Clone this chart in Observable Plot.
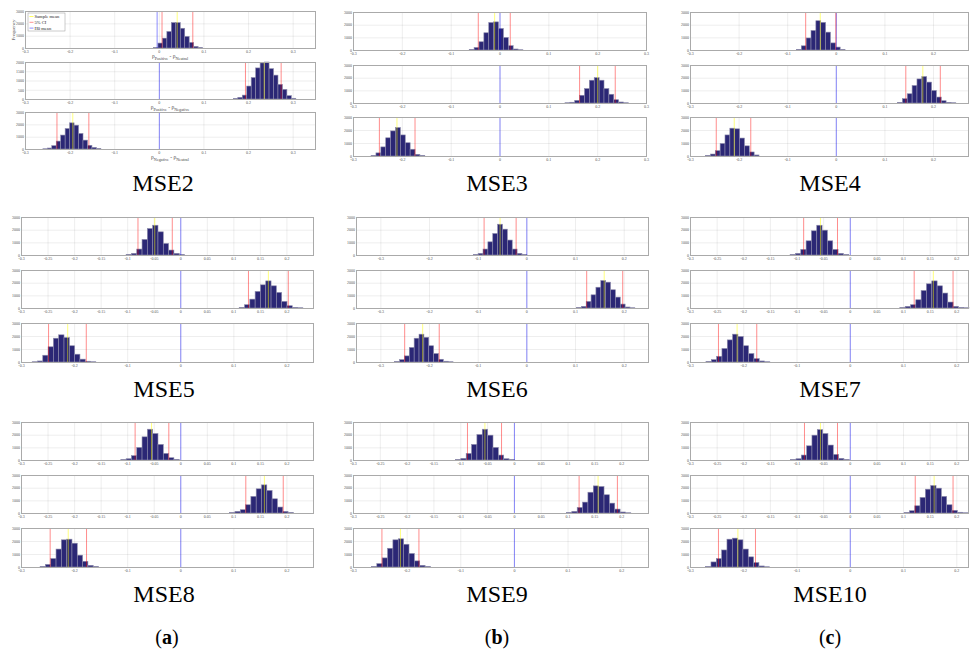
<!DOCTYPE html>
<html>
<head>
<meta charset="utf-8">
<script src="https://cdn.jsdelivr.net/npm/d3@7"></script>
<script src="https://cdn.jsdelivr.net/npm/@observablehq/plot@0.6"></script>
<style>
  body { margin: 0; background: #fff; }
  #fig { position: relative; width: 974px; height: 652px; overflow: hidden; background: #fff; }
  #fig svg.sub { position: absolute; overflow: visible; }
  #overlay { position: absolute; left: 0; top: 0; pointer-events: none; }
</style>
</head>
<body>
<div id="fig"></div>
<script>
// ---- data ---------------------------------------------------------------
const panelNames = ["MSE2", "MSE3", "MSE4", "MSE5", "MSE6", "MSE7", "MSE8", "MSE9", "MSE10"];
const groupLetters = ["a", "b", "c"];
const comparisonTerms = [["Positive", "Neutral"], ["Positive", "Negative"], ["Negative", "Neutral"]];
const legendLabels = ["Sample mean", "5% CI", "H0 mean"];
const yAxisLabel = "Frequency";

// per panel: [Pos-Neu, Pos-Neg, Neg-Neu]
const sampleMeans = [
  [0.040, 0.235, -0.194],
  [-0.011, 0.200, -0.211],
  [-0.033, 0.178, -0.210],
  [-0.049, 0.165, -0.213],
  [-0.055, 0.159, -0.214],
  [-0.056, 0.156, -0.2125],
  [-0.055, 0.1575, -0.212],
  [-0.055, 0.156, -0.2125],
  [-0.056, 0.1575, -0.211]
];
const ciLower = [
  [0.006, 0.193, -0.2295],
  [-0.0445, 0.163, -0.247],
  [-0.063, 0.143, -0.247],
  [-0.0806, 0.1275, -0.249],
  [-0.0878, 0.123, -0.251],
  [-0.0875, 0.120, -0.2475],
  [-0.086, 0.1225, -0.246],
  [-0.0875, 0.1206, -0.247],
  [-0.086, 0.122, -0.2475]
];
const ciUpper = [
  [0.075, 0.273, -0.158],
  [0.021, 0.236, -0.174],
  [-0.001, 0.214, -0.176],
  [-0.016, 0.2025, -0.178],
  [-0.022, 0.197, -0.180],
  [-0.024, 0.193, -0.1756],
  [-0.0225, 0.193, -0.1775],
  [-0.024, 0.192, -0.178],
  [-0.024, 0.193, -0.178]
];
const h0Means = [
  [-0.005, 0, 0], [0, 0, 0], [0, 0, 0],
  [0, 0, 0], [0, 0, 0], [0, 0, 0],
  [0, 0, 0], [0, 0, 0], [0, 0, 0]
];

// histogram bins: left edge of first bin, common bin width, counts
const binWidth = 0.01;
const binStarts = [
  [-0.012, 0.167, -0.26],
  [-0.062, 0.134, -0.263],
  [-0.081, 0.127, -0.268],
  [-0.102, 0.111, -0.279],
  [-0.109, 0.103, -0.2705],
  [-0.112, 0.094, -0.27],
  [-0.112, 0.093, -0.264],
  [-0.109, 0.098, -0.2656],
  [-0.111, 0.102, -0.2706]
];
const countsMSE2 = [
  [30, 400, 800, 1340, 2060, 2060, 1600, 940, 450, 130, 40],
  [30, 90, 210, 700, 1160, 1680, 1950, 2000, 1640, 1290, 790, 520, 180, 40],
  [20, 80, 270, 640, 1130, 1660, 2120, 1930, 1260, 720, 300, 130, 30]
];
const countsMSE3 = [
  [50, 200, 650, 1360, 2170, 2220, 1700, 990, 340, 80, 20],
  [20, 60, 210, 610, 1140, 1800, 2000, 1800, 1140, 690, 260, 80, 20],
  [40, 240, 700, 1400, 1930, 2190, 1620, 1020, 520, 130, 40]
];
const countsMSE4 = [
  [50, 330, 950, 1540, 2310, 2180, 1410, 560, 230, 40],
  [50, 340, 730, 1380, 1900, 2090, 1650, 990, 470, 180, 50, 20],
  [40, 150, 410, 960, 1620, 2140, 2090, 1380, 780, 310, 80]
];
const countsMSE5 = [
  [50, 130, 470, 1230, 2090, 2350, 1830, 910, 390, 130, 30],
  [40, 260, 700, 1310, 1830, 2140, 1750, 1230, 520, 180, 50, 20],
  [20, 80, 520, 1170, 1830, 2090, 1880, 1250, 600, 220, 60, 20]
];
const countsMSE6 = [
  [40, 130, 470, 1040, 1700, 2430, 2040, 1180, 470, 130, 40],
  [30, 130, 520, 1040, 1640, 2170, 2040, 1440, 860, 310, 80, 20],
  [30, 180, 470, 1120, 1830, 2140, 1900, 1250, 650, 210, 60, 20]
];
const countsMSE7 = [
  [30, 130, 440, 1120, 1910, 2350, 1960, 1120, 440, 130, 30],
  [30, 130, 260, 650, 1380, 1910, 2140, 1750, 1180, 470, 130, 40, 20],
  [40, 180, 440, 1040, 1700, 2140, 1960, 1250, 650, 260, 80, 20]
];
const countsMSE8 = [
  [30, 100, 340, 990, 1830, 2430, 2090, 1230, 520, 180, 50],
  [30, 130, 260, 650, 1310, 1910, 2220, 1780, 1120, 470, 130, 40],
  [40, 200, 650, 1380, 2090, 2140, 1830, 910, 440, 130, 40]
];
const countsMSE9 = [
  [30, 130, 520, 1230, 2010, 2430, 1960, 990, 390, 100, 30],
  [30, 130, 440, 860, 1640, 2140, 2090, 1440, 780, 310, 80, 20],
  [30, 260, 700, 1440, 2090, 2170, 1750, 1040, 470, 130, 40]
];
const countsMSE10 = [
  [30, 100, 390, 1120, 1960, 2400, 2090, 1180, 440, 130, 30],
  [30, 180, 570, 1230, 1880, 2170, 1960, 1310, 650, 210, 60, 20],
  [30, 390, 650, 1310, 2140, 2220, 2090, 1380, 780, 340, 80, 20]
];
const panelCounts = [countsMSE2, countsMSE3, countsMSE4, countsMSE5, countsMSE6,
                     countsMSE7, countsMSE8, countsMSE9, countsMSE10];

// axis ranges and tick labels
const xRanges = [
  [-0.3, 0.35], [-0.3, 0.3], [-0.3, 0.272],
  [-0.3, 0.25], [-0.35, 0.25], [-0.3, 0.222],
  [-0.3, 0.25], [-0.3, 0.25], [-0.3, 0.222]
];
const ticksCoarse = [-0.3, -0.2, -0.1, 0, 0.1, 0.2, 0.3];
const ticksFine = [-0.3, -0.25, -0.2, -0.15, -0.1, -0.05, 0, 0.05, 0.1, 0.15, 0.2];
// which tick set each sub-axis uses ("c" coarse, "f" fine)
const tickSets = ["ccc", "ccc", "ccc", "ffc", "ccc", "ffc", "ffc", "ffc", "ffc"];
const countTicks = [0, 1000, 2000, 3000];
const countTicksHalf = [0, 500, 1000, 1500, 2000];

// ---- layout -------------------------------------------------------------
const frameX = [
  [25, 315], [353, 646], [690, 968],
  [21, 313], [356, 648], [690, 968],
  [21, 313], [353, 648], [690, 968]
];
const rowY1 = [[11, 48], [62, 99], [112, 149]];
const rowY1b = [[12, 50], [65, 103], [117, 156]];
const rowY2 = [[217, 255], [270, 308], [323, 362]];
const rowY3 = [[422, 460], [475, 513], [528, 567]];
const frameY = [rowY1, rowY1b, rowY1b, rowY2, rowY2, rowY2, rowY3, rowY3, rowY3];
const titlePos = [
  [163, 191], [497, 191], [830, 191],
  [164, 397], [497, 397], [830, 397],
  [164, 602], [497, 602], [830, 602]
];
const captionPos = [[167, 644], [497, 644], [830, 644]];

const NAVY = "#2b2775";
const fig = document.getElementById("fig");
const fmtX = d => String(+d.toFixed(2));
const fmtY = d => String(d);

function histogram(p, k) {
  const [fx0, fx1] = frameX[p];
  const [fy0, fy1] = frameY[p][k];
  const mL = 14, mR = 2, mT = 2, mB = 8;
  const domain = xRanges[p];
  const xt = (tickSets[p][k] === "f" ? ticksFine : ticksCoarse)
    .filter(t => t >= domain[0] - 1e-9 && t <= domain[1] + 1e-9);
  const half = p === 0 && k === 1;
  const yMax = half ? 2000 : 3000;
  const yt = half ? countTicksHalf : countTicks;
  const start = binStarts[p][k];
  const bins = panelCounts[p][k].map((c, i) => ({
    x1: start + i * binWidth,
    x2: start + (i + 1) * binWidth,
    count: c
  }));
  const svg = Plot.plot({
    width: fx1 - fx0 + mL + mR,
    height: fy1 - fy0 + mT + mB,
    marginLeft: mL, marginRight: mR, marginTop: mT, marginBottom: mB,
    x: {domain, ticks: xt, tickFormat: fmtX, tickSize: 0, tickPadding: 1.5, grid: true, label: null},
    y: {domain: [0, yMax], ticks: yt, tickFormat: fmtY, tickSize: 0, tickPadding: 1.5, grid: true, label: null},
    style: {fontSize: "4px", fontFamily: "Liberation Serif, serif", color: "#555", background: "transparent"},
    marks: [
      Plot.rectY(bins, {x1: "x1", x2: "x2", y: "count", fill: NAVY, stroke: "#8d8bab", strokeWidth: 0.6}),
      Plot.ruleX([h0Means[p][k]], {stroke: "#0000ff", strokeOpacity: 0.45}),
      Plot.ruleX([ciLower[p][k], ciUpper[p][k]], {stroke: "#ff0000", strokeOpacity: 0.45}),
      Plot.ruleX([sampleMeans[p][k]], {stroke: "#ffff00", strokeOpacity: 0.5}),
      Plot.frame({stroke: "#aaaaaa"})
    ]
  });
  svg.classList.add("sub");
  svg.style.left = (fx0 - mL) + "px";
  svg.style.top = (fy0 - mT) + "px";
  fig.appendChild(svg);
}

for (let p = 0; p < panelNames.length; p++) {
  for (let k = 0; k < 3; k++) histogram(p, k);
}

// ---- titles, axis labels, legend ----------------------------------------
const ov = d3.select(fig).append("svg")
  .attr("id", "overlay").attr("width", 974).attr("height", 652)
  .style("font-family", "Liberation Serif, serif");

ov.selectAll("text.title").data(panelNames).join("text")
  .attr("class", "title")
  .attr("x", (d, i) => titlePos[i][0]).attr("y", (d, i) => titlePos[i][1])
  .attr("text-anchor", "middle").attr("font-size", 24).attr("fill", "#000")
  .text(d => d);

const cap = ov.selectAll("text.cap").data(groupLetters).join("text")
  .attr("class", "cap")
  .attr("x", (d, i) => captionPos[i][0]).attr("y", (d, i) => captionPos[i][1])
  .attr("text-anchor", "middle").attr("font-size", 20).attr("fill", "#000");
cap.append("tspan").text("(");
cap.append("tspan").attr("font-weight", "bold").text(d => d);
cap.append("tspan").text(")");

// comparison labels under the first panel
const cx = (frameX[0][0] + frameX[0][1]) / 2;
comparisonTerms.forEach(([a, b], k) => {
  const t = ov.append("text")
    .attr("x", cx).attr("y", frameY[0][k][1] + 10)
    .attr("text-anchor", "middle").attr("font-size", 5.5).attr("fill", "#444");
  t.append("tspan").text("\u03C1");
  t.append("tspan").attr("font-size", 4.2).attr("dy", 1.5).text(a);
  t.append("tspan").attr("dy", -1.5).text(" - \u03C1");
  t.append("tspan").attr("font-size", 4.2).attr("dy", 1.5).text(b);
});

ov.append("text")
  .attr("transform", "translate(15,30) rotate(-90)")
  .attr("text-anchor", "middle").attr("font-size", 5).attr("fill", "#444")
  .text(yAxisLabel);

// legend box inside the first histogram
const lg = ov.append("g").attr("transform", "translate(28,13)");
lg.append("rect").attr("width", 37).attr("height", 18)
  .attr("fill", "#fff").attr("stroke", "#999").attr("stroke-width", 0.5);
const legendColors = ["#ffff00", "#ff0000", "#0000ff"];
const legendOpacity = [0.8, 0.55, 0.55];
legendLabels.forEach((lab, i) => {
  const y = 3.5 + i * 5.8;
  lg.append("line").attr("x1", 1.5).attr("x2", 5.5).attr("y1", y).attr("y2", y)
    .attr("stroke", legendColors[i]).attr("stroke-opacity", legendOpacity[i]).attr("stroke-width", 0.8);
  lg.append("text").attr("x", 6.5).attr("y", y + 1.5)
    .attr("font-size", 4.6).attr("fill", "#222").text(lab);
});
</script>
</body>
</html>
